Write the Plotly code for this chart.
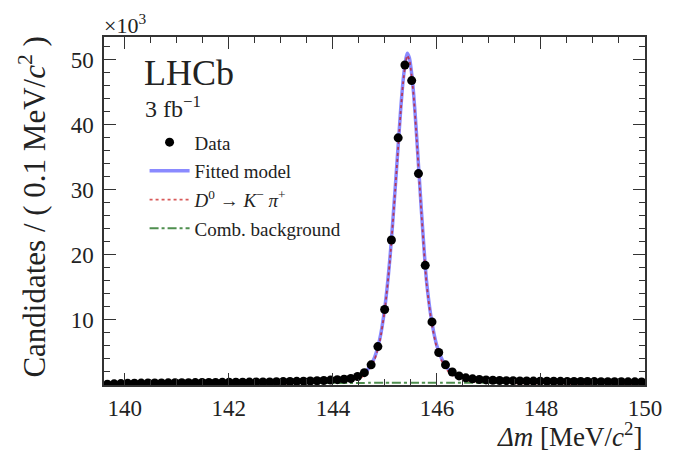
import plotly.graph_objects as go

# ---- data (values in units of 10^3 candidates) ----
bin_low = 139.6
bin_width = 0.13
n_bins = 80
data_counts = [
    0.12, 0.18, 0.22, 0.25, 0.27, 0.29, 0.30, 0.31, 0.32, 0.33,
    0.34, 0.35, 0.36, 0.37, 0.38, 0.39, 0.40, 0.41, 0.42, 0.43,
    0.44, 0.45, 0.46, 0.47, 0.48, 0.50, 0.52, 0.54, 0.56, 0.59,
    0.62, 0.66, 0.70, 0.75, 0.82, 0.90, 1.00, 1.30, 1.90, 3.10,
    5.90, 11.6, 22.3, 38.0, 49.2, 46.8, 32.5, 18.4, 9.7, 5.0,
    3.1, 2.0, 1.4, 1.1, 0.95, 0.85, 0.78, 0.73, 0.70, 0.67,
    0.65, 0.63, 0.61, 0.60, 0.59, 0.58, 0.57, 0.56, 0.55, 0.54,
    0.53, 0.53, 0.52, 0.51, 0.51, 0.50, 0.50, 0.49, 0.49, 0.48,
]
bin_centers = [bin_low + bin_width * (k + 0.5) for k in range(n_bins)]

curve_x = [139.6, 140.0, 140.5, 141.0, 142.0, 143.0, 143.5, 144.0, 144.3, 144.5,
           144.6, 144.7, 144.8, 144.9, 145.0, 145.1, 145.2, 145.3, 145.35, 145.4,
           145.43, 145.47, 145.5, 145.55, 145.6, 145.7, 145.8, 145.9, 146.0, 146.1,
           146.2, 146.3, 146.4, 146.6, 146.8, 147.0, 147.5, 148.0, 149.0, 150.0]
model_y = [0.12, 0.25, 0.31, 0.35, 0.42, 0.50, 0.57, 0.72, 0.90, 1.25,
           1.8, 2.7, 4.2, 7.0, 12.0, 19.8, 30.5, 42.0, 46.8, 50.0,
           51.0, 50.3, 48.8, 45.0, 39.5, 27.0, 16.0, 9.8, 6.0, 3.9,
           2.6, 1.85, 1.4, 1.0, 0.85, 0.75, 0.63, 0.58, 0.52, 0.48]
bkg_y = [0.00, 0.14, 0.19, 0.22, 0.26, 0.29, 0.30, 0.31, 0.32, 0.32,
         0.32, 0.33, 0.33, 0.33, 0.33, 0.33, 0.33, 0.33, 0.33, 0.34,
         0.34, 0.34, 0.34, 0.34, 0.34, 0.34, 0.34, 0.34, 0.34, 0.35,
         0.35, 0.35, 0.35, 0.35, 0.35, 0.35, 0.36, 0.36, 0.37, 0.38]
sig_y = [m - b for m, b in zip(model_y, bkg_y)]

x_ticks = [140, 142, 144, 146, 148, 150]
y_ticks = [10, 20, 30, 40, 50]

FONT = "Liberation Serif"
TXT = "#222222"

fig = go.Figure()
fig.add_trace(go.Scatter(x=curve_x, y=model_y, mode="lines", name="Fitted model",
                         line=dict(color="#8a8aff", width=3.5, shape="spline", smoothing=0.6),
                         legendrank=2, legendgroup="b"))
fig.add_trace(go.Scatter(x=curve_x, y=sig_y, mode="lines",
                         name="<i>D</i><sup>0</sup> → <i>K</i><sup>−</sup> <i>π</i><sup>+</sup>",
                         line=dict(color="rgba(200,20,20,0.7)", width=1.8, dash="dot", shape="spline", smoothing=0.6),
                         legendrank=3, legendgroup="c"))
fig.add_trace(go.Scatter(x=curve_x, y=bkg_y, mode="lines", name="Comb. background",
                         line=dict(color="#4f8f4f", width=2, dash="dashdot", shape="spline", smoothing=0.6),
                         legendrank=4, legendgroup="d"))
fig.add_trace(go.Scatter(x=bin_centers, y=data_counts, mode="markers", name="Data",
                         marker=dict(color="black", size=9),
                         legendrank=1, legendgroup="a"))

axis_common = dict(showline=True, linecolor="#333333", linewidth=1.5, mirror="allticks",
                   ticks="inside", tickcolor="#333333", tickwidth=1, ticklen=12,
                   showgrid=False, zeroline=False,
                   tickfont=dict(family=FONT, size=23, color=TXT))

fig.update_xaxes(range=[139.6, 150], tickvals=x_ticks, ticktext=[str(v) for v in x_ticks],
                 minor=dict(dtick=0.5, tick0=140, ticks="inside", ticklen=6, tickcolor="#333333", tickwidth=1),
                 ticklabelstandoff=2, **axis_common)
fig.update_yaxes(range=[0, 53.5], tickvals=y_ticks, ticktext=[str(v) for v in y_ticks],
                 minor=dict(dtick=2, tick0=0, ticks="inside", ticklen=6, tickcolor="#333333", tickwidth=1),
                 ticklabelstandoff=4, **axis_common)

fig.add_annotation(text="×10<sup>3</sup>", xref="paper", yref="paper", x=-0.003, y=0.99,
                   xanchor="left", yanchor="bottom", showarrow=False,
                   font=dict(family=FONT, size=22, color=TXT))
fig.add_annotation(text="Candidates / ( 0.1 MeV/<i>c</i><sup>2</sup> )", xref="paper", yref="paper",
                   x=-0.133, y=0.51, xanchor="center", yanchor="middle", textangle=-90,
                   showarrow=False, font=dict(family=FONT, size=31, color=TXT))
fig.add_annotation(text="<i>Δm</i> [MeV/<i>c</i><sup>2</sup>]", xref="paper", yref="paper",
                   x=1.0, y=-0.143, xanchor="right", yanchor="middle", showarrow=False,
                   font=dict(family=FONT, size=27, color=TXT))
fig.add_annotation(text="LHCb", xref="paper", yref="paper", x=0.07, y=0.897,
                   xanchor="left", yanchor="middle", showarrow=False,
                   font=dict(family=FONT, size=36, color=TXT))
fig.add_annotation(text="3 fb<sup>−1</sup>", xref="paper", yref="paper", x=0.072, y=0.80,
                   xanchor="left", yanchor="middle", showarrow=False,
                   font=dict(family=FONT, size=24, color=TXT))

fig.update_layout(
    width=674, height=453,
    margin=dict(l=104, r=20, t=37, b=68),
    plot_bgcolor="white", paper_bgcolor="white",
    showlegend=True,
    legend=dict(x=0.075, y=0.752, xanchor="left", yanchor="top",
                bgcolor="rgba(0,0,0,0)", borderwidth=0,
                font=dict(family=FONT, size=19, color=TXT),
                tracegroupgap=1, itemwidth=40),
)

# remove the default page margin so the figure fills the window exactly
fig.write_html("out.html", config={"displayModeBar": False},
               post_script="document.body.style.margin='0px';")
